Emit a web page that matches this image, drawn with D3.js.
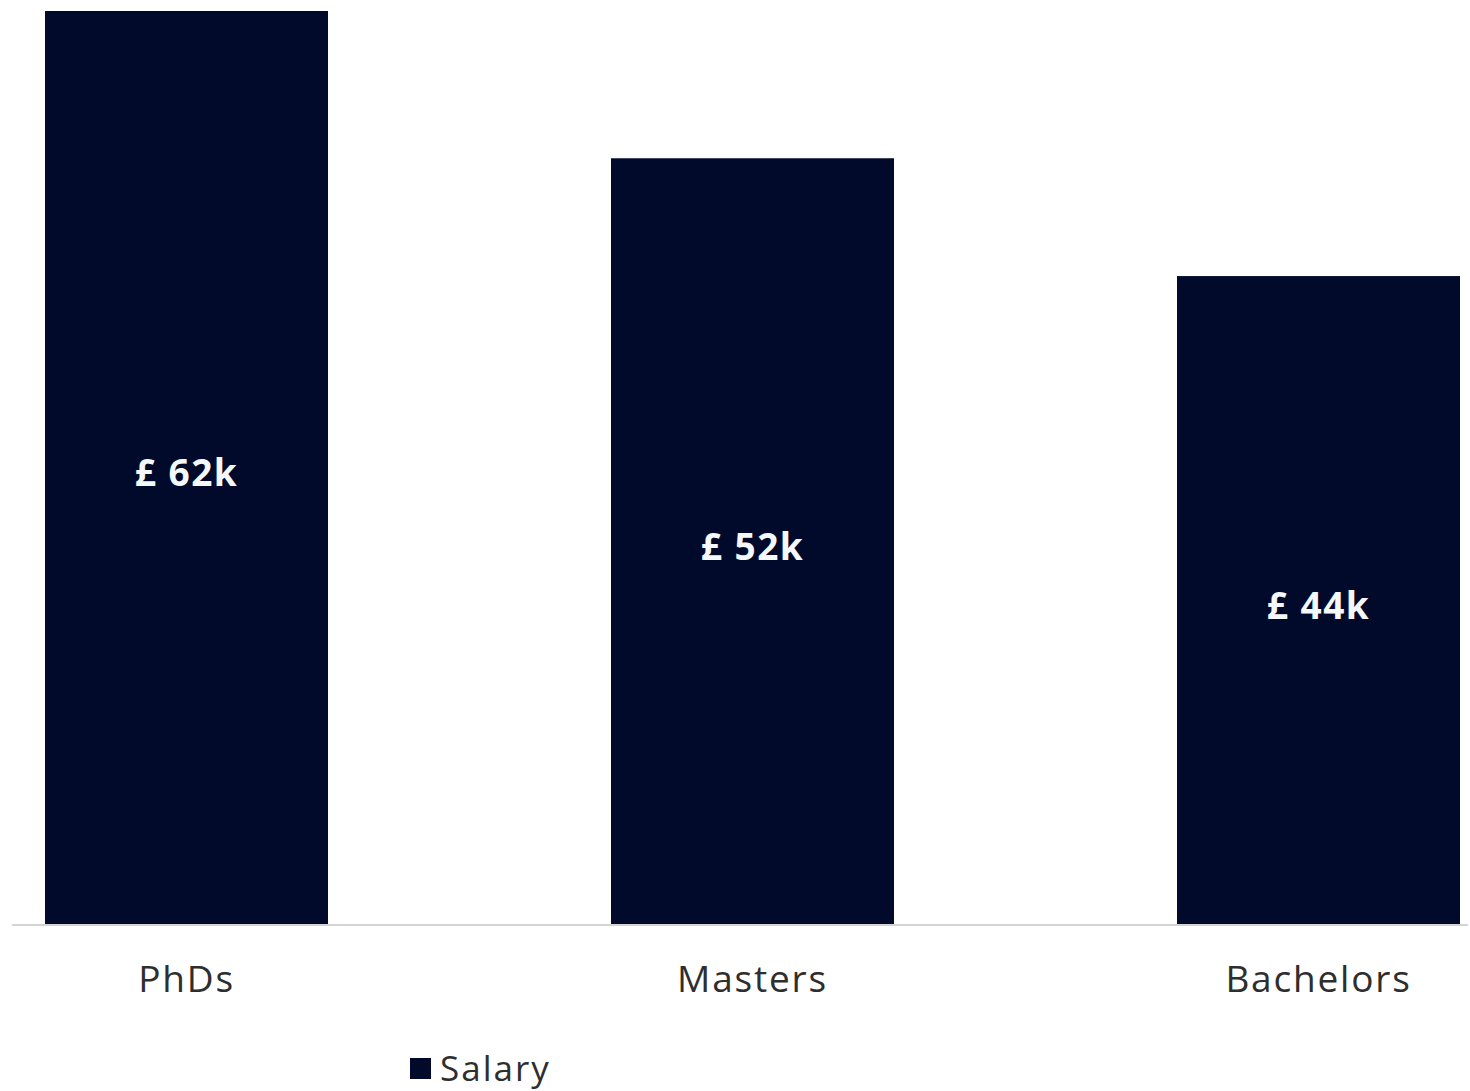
<!DOCTYPE html>
<html>
<head>
<meta charset="utf-8">
<script src="https://cdn.jsdelivr.net/npm/d3@7"></script>
<style>
    body { margin: 0; background: #fff; }
    text { font-family: "Open Sans", "DejaVu Sans", sans-serif; }
</style>
</head>
<body>
<script>
var categories = ["PhDs", "Masters", "Bachelors"];
var salary = [62, 52, 44];
var valueLabels = ["£ 62k", "£ 52k", "£ 44k"];
var seriesName = "Salary";

window.onload = () => {

    var width = 1470;
    var height = 1091;
    var barColor = "#020a2b";

    var svg = d3.select("body").append("svg")
        .attr("width", width)
        .attr("height", height)

    var xscale = d3.scaleBand()
        .domain(categories)
        .range([-96.5, 1601.5])
        .paddingInner(0.5)
        .paddingOuter(0.25);

    var yscale = d3.scaleLinear()
        .domain([0, 62])
        .range([924, 11]);

    // bars
    svg.append("g").selectAll("rect")
        .data(salary)
        .enter().append("rect")
        .attr("x", (d, i) => xscale(categories[i]))
        .attr("y", d => yscale(d))
        .attr("width", xscale.bandwidth())
        .attr("height", d => yscale(0) - yscale(d))
        .attr("fill", barColor)

    // axis line + category labels
    var x_axis = d3.axisBottom(xscale).tickSize(0);
    var ax = svg.append("g")
        .attr("transform", "translate(0," + yscale(0) + ")")
        .call(x_axis);
    ax.select(".domain").remove();
    ax.append("line")
        .attr("x1", 12).attr("x2", 1468)
        .attr("y1", 1).attr("y2", 1)
        .attr("stroke", "#d4d4d4")
        .attr("stroke-width", 2);
    ax.selectAll(".tick text")
        .attr("font-family", "'Open Sans', sans-serif")
        .attr("font-size", 37)
        .attr("letter-spacing", 1.8)
        .attr("fill", "#2e2e2e")
        .attr("dy", "0.71em")
        .attr("y", 42);

    // value labels
    svg.append("g").selectAll("text")
        .data(salary)
        .enter().append("text")
        .attr("x", (d, i) => xscale(categories[i]) + xscale.bandwidth() / 2)
        .attr("y", d => (yscale(d) + yscale(0)) / 2)
        .attr("dy", "0.5em")
        .attr("text-anchor", "middle")
        .attr("font-size", 37)
        .attr("letter-spacing", 1.5)
        .attr("font-weight", "bold")
        .attr("fill", "#f4f8fa")
        .text((d, i) => valueLabels[i]);

    // legend
    var lg = svg.append("g").attr("transform", "translate(410,1058)");
    lg.append("rect")
        .attr("width", 21).attr("height", 21)
        .attr("fill", barColor);
    lg.append("text")
        .attr("x", 30).attr("y", 23)
        .attr("font-size", 35)
        .attr("letter-spacing", 2)
        .attr("fill", "#2e2e2e")
        .text(seriesName);
}
</script>
</body>
</html>
